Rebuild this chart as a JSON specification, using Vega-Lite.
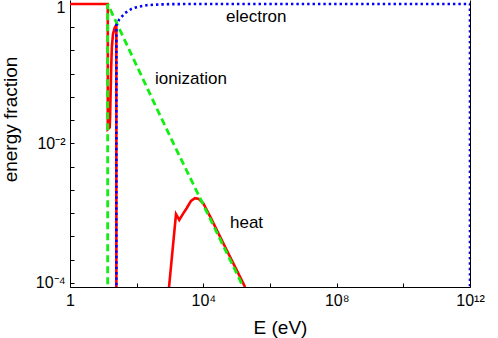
{
  "$schema": "https://vega.github.io/schema/vega-lite/v6.json",
  "width": 400,
  "height": 287,
  "autosize": {"type": "none"},
  "padding": {"left": 70, "top": 0, "right": 28, "bottom": 51},
  "config": {
    "view": {"stroke": null},
    "font": "Liberation Sans",
    "axis": {
      "domainColor": "black",
      "domainWidth": 1,
      "tickColor": "black",
      "tickSize": -4,
      "grid": false,
      "labelFont": "Liberation Sans",
      "labelFontSize": 16,
      "labelColor": "black",
      "titleFont": "Liberation Sans",
      "titleFontSize": 19,
      "titleFontWeight": "normal",
      "titleColor": "black"
    }
  },
  "datasets": {
    "curves": [
      {"series": "heat", "seg": 1, "i": 1, "E": 1, "f": 1},
      {"series": "heat", "seg": 1, "i": 2, "E": 13.6, "f": 1},
      {"series": "heat", "seg": 1, "i": 3, "E": 13.6, "f": 0.016},
      {"series": "heat", "seg": 1, "i": 4, "E": 15.5, "f": 0.017},
      {"series": "heat", "seg": 1, "i": 5, "E": 16, "f": 0.025},
      {"series": "heat", "seg": 1, "i": 6, "E": 16.5, "f": 0.05},
      {"series": "heat", "seg": 1, "i": 7, "E": 17.2, "f": 0.12},
      {"series": "heat", "seg": 1, "i": 8, "E": 18, "f": 0.24},
      {"series": "heat", "seg": 1, "i": 9, "E": 19.5, "f": 0.37},
      {"series": "heat", "seg": 1, "i": 10, "E": 22, "f": 0.46},
      {"series": "heat", "seg": 1, "i": 11, "E": 24.6, "f": 0.5},
      {"series": "heat", "seg": 1, "i": 12, "E": 24.6, "f": 0.000001},
      {"series": "heat", "seg": 2, "i": 13, "E": 930, "f": 0.000085},
      {"series": "heat", "seg": 2, "i": 14, "E": 1514, "f": 0.00097},
      {"series": "heat", "seg": 2, "i": 15, "E": 1900, "f": 0.0008},
      {"series": "heat", "seg": 2, "i": 16, "E": 2450, "f": 0.00098},
      {"series": "heat", "seg": 2, "i": 17, "E": 3160, "f": 0.00118},
      {"series": "heat", "seg": 2, "i": 18, "E": 4270, "f": 0.0015},
      {"series": "heat", "seg": 2, "i": 19, "E": 5620, "f": 0.00164},
      {"series": "heat", "seg": 2, "i": 20, "E": 7400, "f": 0.0016},
      {"series": "heat", "seg": 2, "i": 21, "E": 9950, "f": 0.00139},
      {"series": "heat", "seg": 2, "i": 22, "E": 15800, "f": 0.00091},
      {"series": "heat", "seg": 2, "i": 23, "E": 50100, "f": 0.000297},
      {"series": "heat", "seg": 2, "i": 24, "E": 166000, "f": 0.000094},
      {"series": "heat", "seg": 2, "i": 25, "E": 190000, "f": 0.000079},
      {"series": "ionization", "seg": 1, "i": 1, "E": 1, "f": 0.000001},
      {"series": "ionization", "seg": 1, "i": 2, "E": 13.5, "f": 0.000001},
      {"series": "ionization", "seg": 1, "i": 3, "E": 13.5, "f": 1},
      {"series": "ionization", "seg": 1, "i": 4, "E": 530, "f": 0.024},
      {"series": "ionization", "seg": 1, "i": 5, "E": 1570, "f": 0.0081},
      {"series": "ionization", "seg": 1, "i": 6, "E": 8500, "f": 0.00155},
      {"series": "ionization", "seg": 1, "i": 7, "E": 126000, "f": 0.00011},
      {"series": "ionization", "seg": 1, "i": 8, "E": 300000, "f": 0.00004},
      {"series": "electron", "seg": 1, "i": 1, "E": 1, "f": 0.000001},
      {"series": "electron", "seg": 1, "i": 2, "E": 24.6, "f": 0.000001},
      {"series": "electron", "seg": 1, "i": 3, "E": 24.6, "f": 0.5},
      {"series": "electron", "seg": 1, "i": 4, "E": 30, "f": 0.6},
      {"series": "electron", "seg": 1, "i": 5, "E": 44.7, "f": 0.74},
      {"series": "electron", "seg": 1, "i": 6, "E": 70, "f": 0.85},
      {"series": "electron", "seg": 1, "i": 7, "E": 100, "f": 0.9},
      {"series": "electron", "seg": 1, "i": 8, "E": 200, "f": 0.96},
      {"series": "electron", "seg": 1, "i": 9, "E": 400, "f": 0.98},
      {"series": "electron", "seg": 1, "i": 10, "E": 1000, "f": 0.995},
      {"series": "electron", "seg": 1, "i": 11, "E": 10000, "f": 1},
      {"series": "electron", "seg": 1, "i": 12, "E": 1000000000000, "f": 1},
      {"series": "electron", "seg": 1, "i": 13, "E": 1000000000000, "f": 0.000001}
    ],
    "labels": [
      {"E": 47900, "f": 0.65, "text": "electron"},
      {"E": 355, "f": 0.084, "text": "ionization"},
      {"E": 63000, "f": 0.00072, "text": "heat"}
    ]
  },
  "resolve": {"scale": {"x": "shared", "y": "shared"}, "axis": {"y": "independent"}},
  "layer": [
    {
      "data": {"name": "curves"},
      "transform": [{"filter": "datum.series === 'heat'"}],
      "mark": {"type": "line", "clip": true, "color": "#ff0000", "strokeWidth": 2.6, "interpolate": "linear"},
      "encoding": {
        "x": {"field": "E", "type": "quantitative",
          "scale": {"type": "log", "domain": [1, 1000000000000], "nice": false},
          "axis": {"values": [1, 100, 10000, 1000000, 100000000, 10000000000, 1000000000000],
            "labelExpr": "datum.value == 1 ? '1' : datum.value == 10000 ? '10⁴' : datum.value == 100000000 ? '10⁸' : datum.value == 1000000000000 ? '10¹²' : ''",
            "labelPadding": 9, "labelFlush": false, "labelOverlap": false,
            "title": "E (eV)", "titleX": 210, "titleY": 46, "titleAlign": "center", "titleBaseline": "alphabetic"}},
        "y": {"field": "f", "type": "quantitative",
          "scale": {"type": "log", "domain": [0.0000876, 1.14], "nice": false},
          "axis": {"values": [1, 0.4642, 0.2154, 0.1, 0.04642, 0.02154, 0.01, 0.004642, 0.002154, 0.001, 0.0004642, 0.0002154, 0.0001],
            "labelExpr": "datum.value == 1 ? '1' : datum.value == 0.01 ? '10⁻²' : datum.value == 0.0001 ? '10⁻⁴' : ''",
            "labelOffset": {"condition": {"test": "datum.value == 1", "value": 4}, "value": 0},
            "labelPadding": 9, "labelFlush": false, "labelOverlap": false,
            "title": "energy fraction", "titleX": -50, "titleY": 119, "titleAngle": -90, "titleAlign": "center", "titleBaseline": "bottom"}},
        "detail": {"field": "seg", "type": "nominal"},
        "order": {"field": "i", "type": "quantitative"}
      }
    },
    {
      "data": {"name": "curves"},
      "transform": [{"filter": "datum.series === 'ionization'"}],
      "mark": {"type": "line", "clip": true, "color": "#11ee11", "strokeWidth": 2.8, "strokeDash": [7, 4]},
      "encoding": {
        "x": {"field": "E", "type": "quantitative"},
        "y": {"field": "f", "type": "quantitative", "axis": null},
        "order": {"field": "i", "type": "quantitative"}
      }
    },
    {
      "data": {"name": "curves"},
      "transform": [{"filter": "datum.series === 'electron'"}],
      "mark": {"type": "line", "clip": true, "color": "#0000ff", "strokeWidth": 2.6, "strokeDash": [2.4, 3]},
      "encoding": {
        "x": {"field": "E", "type": "quantitative"},
        "y": {"field": "f", "type": "quantitative",
          "axis": {"orient": "right", "labels": false, "ticks": false, "title": null, "domain": true}},
        "order": {"field": "i", "type": "quantitative"}
      }
    },
    {
      "data": {"name": "labels"},
      "mark": {"type": "text", "align": "left", "baseline": "middle", "fontSize": 17, "font": "Liberation Sans", "color": "black"},
      "encoding": {
        "x": {"field": "E", "type": "quantitative"},
        "y": {"field": "f", "type": "quantitative", "axis": null},
        "text": {"field": "text"}
      }
    }
  ]
}
